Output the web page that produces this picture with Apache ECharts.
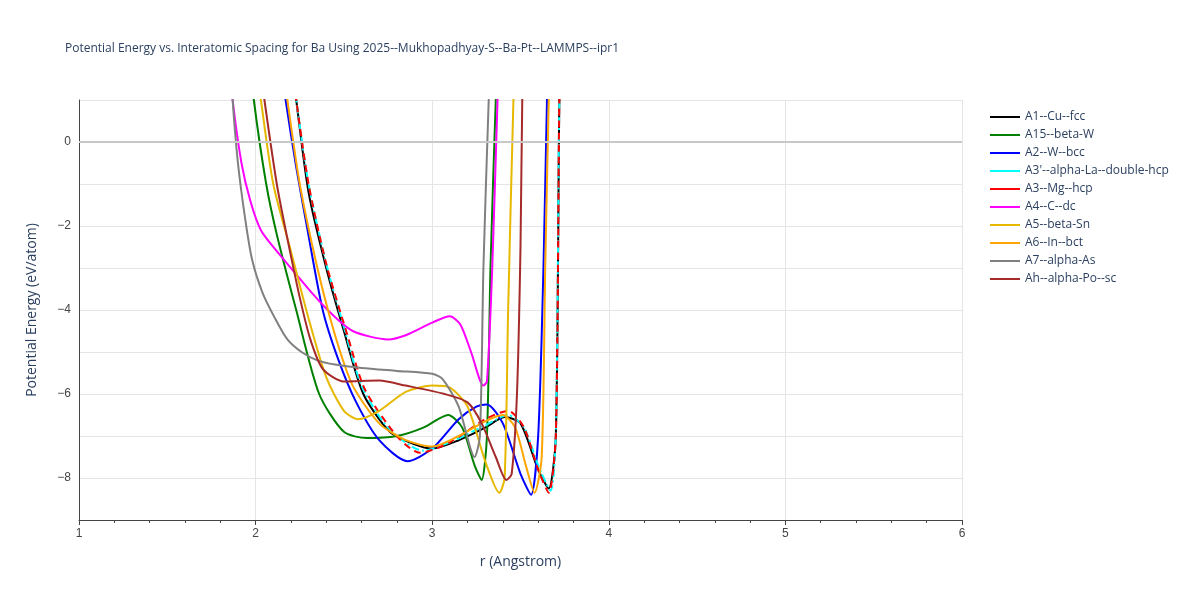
<!DOCTYPE html>
<html>
<head>
<meta charset="utf-8">
<script src="https://cdn.jsdelivr.net/npm/echarts@6/dist/echarts.min.js"></script>
<style>html,body{margin:0;padding:0;background:#fff}#main{width:1200px;height:600px}</style>
</head>
<body>
<div id="main"></div>
<script>
// series names and colours
let names = ['A1--Cu--fcc','A15--beta-W','A2--W--bcc',"A3'--alpha-La--double-hcp",'A3--Mg--hcp','A4--C--dc','A5--beta-Sn','A6--In--bct','A7--alpha-As','Ah--alpha-Po--sc']
let colors = ['#000000','#008000','#0000ff','#00ffff','#ff0000','#ff00ff','#e6b800','#ffa500','#808080','#a52a2a']
let dashes = ['solid','solid','solid',[8,3,2,3],[7,5],'solid','solid','solid','solid','solid']

// [r, E]
let fcc = [[2.2,2],[2.23,1],[2.3,-1.2],[2.4,-3],[2.5,-4.5],[2.61,-6],[2.76,-6.9],[2.9,-7.2],[3.0,-7.3],[3.15,-7.1],[3.3,-6.8],[3.41,-6.55],[3.5,-6.7],[3.6,-7.8],[3.66,-8.25],[3.7,-7],[3.72,1],[3.73,2]]
let betaW = [[1.97,2],[1.99,1],[2.06,-1],[2.12,-2.2],[2.23,-4],[2.36,-6],[2.5,-6.9],[2.63,-7.05],[2.8,-7.0],[2.95,-6.8],[3.09,-6.5],[3.17,-6.8],[3.24,-7.7],[3.28,-8.05],[3.31,-7],[3.33,-3],[3.36,1],[3.37,2]]
let bcc = [[2.14,2],[2.17,1],[2.23,-0.6],[2.29,-2],[2.38,-4],[2.47,-5.2],[2.57,-6.2],[2.7,-7.1],[2.86,-7.6],[3.0,-7.3],[3.15,-6.6],[3.25,-6.3],[3.31,-6.25],[3.4,-6.7],[3.5,-7.9],[3.56,-8.4],[3.6,-7],[3.63,-3],[3.65,1],[3.66,2]]
let dhcp = [[2.2,2],[2.23,1],[2.3,-1],[2.4,-2.9],[2.5,-4.4],[2.6,-5.8],[2.75,-6.8],[2.95,-7.35],[3.1,-7.15],[3.3,-6.75],[3.43,-6.5],[3.52,-6.8],[3.6,-7.7],[3.67,-8.3],[3.7,-7],[3.72,1],[3.73,2]]
let hcp = [[2.2,2],[2.23,1],[2.3,-1],[2.4,-2.9],[2.52,-4.6],[2.62,-5.9],[2.8,-7.0],[2.93,-7.4],[3.1,-7.15],[3.3,-6.6],[3.43,-6.4],[3.52,-6.8],[3.6,-7.8],[3.66,-8.35],[3.7,-7],[3.72,1],[3.73,2]]
let dc = [[1.85,2],[1.87,1],[1.92,-0.5],[1.97,-1.4],[2.03,-2.1],[2.12,-2.6],[2.22,-3.1],[2.32,-3.6],[2.42,-4.05],[2.55,-4.5],[2.75,-4.7],[2.85,-4.6],[3.0,-4.3],[3.1,-4.15],[3.16,-4.35],[3.22,-5.0],[3.29,-5.8],[3.31,-5.7],[3.34,-3],[3.37,1],[3.38,2]]
let betaSn = [[2.0,2],[2.03,1],[2.1,-1],[2.2,-2.6],[2.3,-4.2],[2.4,-5.6],[2.5,-6.4],[2.58,-6.6],[2.7,-6.4],[2.85,-5.95],[3.0,-5.8],[3.1,-5.85],[3.2,-6.3],[3.3,-7.6],[3.38,-8.35],[3.41,-8],[3.43,-4],[3.46,1],[3.47,2]]
let bct = [[2.15,2],[2.18,1],[2.25,-1],[2.35,-3],[2.45,-4.6],[2.55,-5.8],[2.7,-6.7],[2.85,-7.1],[3.0,-7.25],[3.15,-7.0],[3.3,-6.65],[3.4,-6.5],[3.47,-6.8],[3.53,-7.7],[3.58,-8.35],[3.62,-7.5],[3.64,-3],[3.66,1],[3.67,2]]
let alphaAs = [[1.86,2],[1.87,1],[1.9,-0.5],[1.94,-1.8],[1.98,-2.8],[2.04,-3.6],[2.11,-4.2],[2.18,-4.7],[2.26,-5.0],[2.35,-5.2],[2.45,-5.3],[2.6,-5.38],[2.8,-5.45],[3.0,-5.52],[3.06,-5.65],[3.15,-6.3],[3.24,-7.5],[3.27,-7],[3.29,-3],[3.32,1],[3.33,2]]
let alphaPo = [[2.02,2],[2.05,1],[2.12,-1],[2.18,-2.3],[2.25,-3.7],[2.31,-4.7],[2.38,-5.4],[2.5,-5.7],[2.7,-5.68],[2.85,-5.8],[3.07,-6.0],[3.2,-6.2],[3.28,-6.7],[3.36,-7.5],[3.42,-8.05],[3.45,-7.9],[3.48,-6],[3.5,-2.5],[3.51,1],[3.52,2]]
let dataList = [fcc,betaW,bcc,dhcp,hcp,dc,betaSn,bct,alphaAs,alphaPo]

let xTicks = [1,2,3,4,5,6]
let yTicks = [-8,-6,-4,-2,0]

let myChart = echarts.init(document.getElementById('main'))
let series = []
names.forEach((n,i) => {
    series.push({
        name: n,
        type: 'line',
        data: dataList[i],
        smooth: 0.25,
        showSymbol: false,
        clip: true,
        lineStyle: {color: colors[i], width: 2, type: dashes[i]},
        itemStyle: {color: colors[i]}
    })
})
series[0].markLine = {
    silent: true, symbol: 'none', label: {show: false},
    lineStyle: {color: '#c8c8c8', width: 2, type: 'solid'},
    data: [{yAxis: 0}]
}

let option = {
    animation: false,
    title: {
        text: 'Potential Energy vs. Interatomic Spacing for Ba Using 2025--Mukhopadhyay-S--Ba-Pt--LAMMPS--ipr1',
        left: 60, top: 38,
        textStyle: {fontSize: 12, fontWeight: 'normal', color: '#2a3f5f', fontFamily: 'Open Sans'}
    },
    grid: {left: 79, right: 238, top: 100, bottom: 80},
    legend: {
        orient: 'vertical', left: 985, top: 106, itemGap: 6,
        itemWidth: 30, itemHeight: 2,
        textStyle: {fontSize: 12, color: '#2a3f5f', fontFamily: 'Open Sans'},
        data: names.map((n,i) => ({name: n, icon: 'rect'}))
    },
    xAxis: {
        type: 'value', min: 1, max: 6, interval: 1,
        name: 'r (Angstrom)', nameLocation: 'middle', nameGap: 35,
        nameTextStyle: {fontSize: 14, color: '#2a3f5f', fontFamily: 'Open Sans'},
        axisLine: {show: true, onZero: false, lineStyle: {color: '#444'}},
        axisTick: {show: true, length: 5, lineStyle: {color: '#444'}},
        minorTick: {show: true, splitNumber: 5, length: 3, lineStyle: {color: '#444'}},
        axisLabel: {color: '#444', fontSize: 12, formatter: v => xTicks.includes(v) ? String(v) : ''},
        splitLine: {show: true, lineStyle: {color: '#e5e5e5'}}
    },
    yAxis: {
        type: 'value', min: -9, max: 1, interval: 1,
        name: 'Potential Energy (eV/atom)', nameLocation: 'middle', nameGap: 40,
        nameTextStyle: {fontSize: 14, color: '#2a3f5f', fontFamily: 'Open Sans'},
        axisLine: {show: true, onZero: false, lineStyle: {color: '#444'}},
        axisTick: {show: false},
        axisLabel: {color: '#444', fontSize: 12, formatter: v => yTicks.includes(v) ? (v < 0 ? '\u2212' + (-v) : String(v)) : ''},
        splitLine: {show: true, lineStyle: {color: '#e5e5e5'}, interval: (idx, v) => yTicks.includes(v)}
    },
    series: series
}
myChart.setOption(option)
</script>
</body>
</html>
